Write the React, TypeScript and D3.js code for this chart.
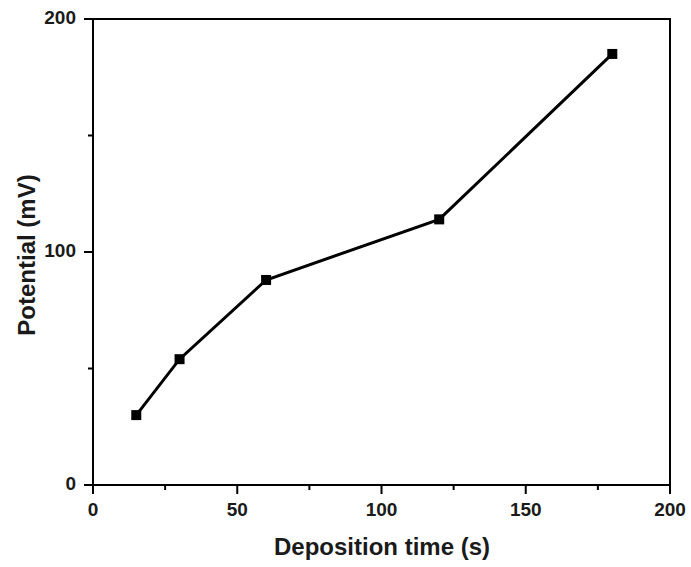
import React from "react";
import * as d3 from "d3";

const times = [15, 30, 60, 120, 180];
const potentials = [30, 54, 88, 114, 185];
const xTicks = [0, 50, 100, 150, 200];
const xMinor = [25, 75, 125, 175];
const yTicks = [0, 100, 200];
const yMinor = [50, 150];
const xLabel = "Deposition time (s)";
const yLabel = "Potential (mV)";

export default function App() {
  const W = 691, H = 567;
  const L = 93, R = 670, T = 19, B = 485;
  const x = d3.scaleLinear().domain([0, 200]).range([L, R]);
  const y = d3.scaleLinear().domain([0, 200]).range([B, T]);
  const pts = times.map((t, i) => [x(t), y(potentials[i])] as [number, number]);
  const line = d3.line()(pts) || "";
  const font = "Arial, 'Liberation Sans', sans-serif";
  return (
    <svg width={W} height={H} style={{ position: "absolute", left: 0, top: 0, background: "#fff" }}>
      <rect x={0} y={0} width={W} height={H} fill="#fff" />
      <rect x={L} y={T} width={R - L} height={B - T} fill="none" stroke="#000" strokeWidth={2} />
      {xTicks.map((t) => (
        <g key={"xt" + t}>
          <line x1={x(t)} x2={x(t)} y1={B} y2={B + 9} stroke="#000" strokeWidth={2} />
          <text x={x(t)} y={B + 31} textAnchor="middle" fontFamily={font} fontWeight="bold" fontSize={19} fill="#1a1a1a">{t}</text>
        </g>
      ))}
      {xMinor.map((t) => (
        <line key={"xm" + t} x1={x(t)} x2={x(t)} y1={B} y2={B + 5} stroke="#000" strokeWidth={2} />
      ))}
      {yTicks.map((t) => (
        <g key={"yt" + t}>
          <line x1={L - 9} x2={L} y1={y(t)} y2={y(t)} stroke="#000" strokeWidth={2} />
          <text x={76} y={y(t) + 5} textAnchor="end" fontFamily={font} fontWeight="bold" fontSize={19} fill="#1a1a1a">{t}</text>
        </g>
      ))}
      {yMinor.map((t) => (
        <line key={"ym" + t} x1={L - 5} x2={L} y1={y(t)} y2={y(t)} stroke="#000" strokeWidth={2} />
      ))}
      <path d={line} fill="none" stroke="#000" strokeWidth={3} />
      {pts.map(([px, py], i) => (
        <rect key={"m" + i} x={px - 5} y={py - 5} width={10} height={10} fill="#000" />
      ))}
      <text x={382} y={555} textAnchor="middle" fontFamily={font} fontWeight="bold" fontSize={24} fill="#1a1a1a">{xLabel}</text>
      <text transform={`translate(35, 255) rotate(-90)`} textAnchor="middle" fontFamily={font} fontWeight="bold" fontSize={24} fill="#1a1a1a">{yLabel}</text>
    </svg>
  );
}
